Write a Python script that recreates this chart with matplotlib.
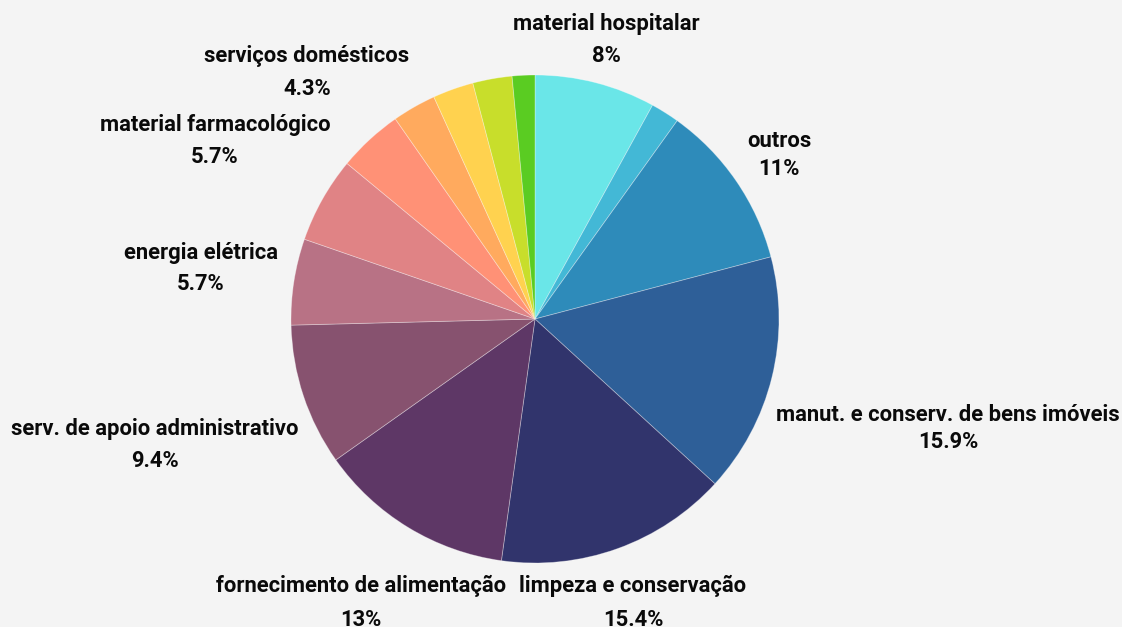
import matplotlib
matplotlib.use("Agg")
import matplotlib.pyplot as plt

# slices, clockwise from 12 o'clock
names = ["material hospitalar", "", "outros", "manut. e conserv. de bens imóveis",
         "limpeza e conservação", "fornecimento de alimentação",
         "serv. de apoio administrativo", "energia elétrica",
         "material farmacológico", "serviços domésticos", "", "", "", ""]
shares = [8, 1.9, 11, 15.9, 15.4, 13, 9.4, 5.7, 5.7, 4.3, 2.9, 2.7, 2.6, 1.5]
colors = ["#6ae6e8", "#43b8d6", "#2e8bba", "#2e5f98", "#31346c", "#5e3766",
          "#87526f", "#b87285", "#e08385", "#ff9176", "#ffaa5e", "#ffd24f",
          "#c8de2b", "#5acc22"]

W, H = 1122, 627
# label layout in pixels (top origin): x centre, baseline of name, baseline of pct
label_pos = {
    "material hospitalar": (606, 30, 62.5),
    "outros": (779, 147, 175),
    "manut. e conserv. de bens imóveis": (948, 421, 448),
    "limpeza e conservação": (633, 592, 626),
    "fornecimento de alimentação": (361, 592, 626),
    "serv. de apoio administrativo": (155, 435, 467),
    "energia elétrica": (201, 259, 290),
    "material farmacológico": (215, 131, 163),
    "serviços domésticos": (307, 62, 95),
}

fig = plt.figure(figsize=(W / 100, H / 100), dpi=100)
fig.patch.set_facecolor("#f4f4f4")
ax = fig.add_axes([0, 0, 1, 1])
ax.set_facecolor("#f4f4f4")

ax.pie(shares, colors=colors, startangle=90, counterclock=False,
       center=(535, H - 319), radius=244,
       wedgeprops=dict(edgecolor=(1, 1, 1, 0.35), linewidth=0.6))

font = dict(family=["Roboto", "DejaVu Sans"], fontweight="bold", fontsize=15.8,
            color="#0a0a0a", ha="center", va="baseline")
for name, share in zip(names, shares):
    if name not in label_pos:
        continue
    x, yn, yp = label_pos[name]
    ax.text(x, H - yn, name, **font)
    ax.text(x, H - yp, f"{share:g}%", **font)

ax.set_xlim(0, W)
ax.set_ylim(0, H)
ax.set_aspect("equal")
ax.axis("off")

fig.savefig("out.png", dpi=100, facecolor=fig.get_facecolor())
